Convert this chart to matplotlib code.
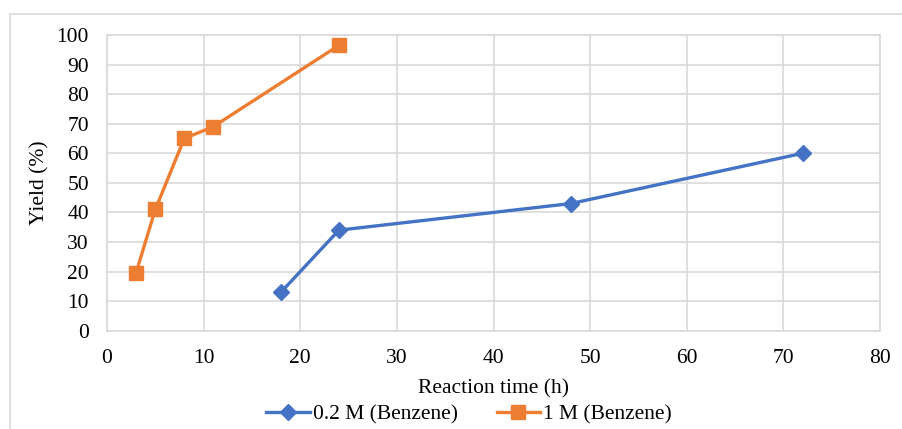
import matplotlib
matplotlib.use("Agg")
import matplotlib.pyplot as plt
from matplotlib.patches import Rectangle

x_02 = [18, 24, 48, 72]
y_02 = [13, 34, 43, 60]
x_1 = [3, 5, 8, 11, 24]
y_1 = [19.5, 41, 65, 69, 96.5]
label_02 = "0.2 M (Benzene)"
label_1 = "1 M (Benzene)"
x_ticks = list(range(0, 81, 10))
y_ticks = list(range(0, 101, 10))

plt.rcParams['font.family'] = ['Liberation Serif', 'DejaVu Serif']

fig = plt.figure(figsize=(9.03, 4.29), dpi=100)
fig.patches.append(Rectangle((10/903, -0.1), 1.0, 1 - 14/429 + 0.1, transform=fig.transFigure,
                             fill=False, edgecolor='#D9D9D9', linewidth=1.2))
ax = fig.add_axes([107/903, 1 - 330.7/429, (880-107)/903, (330.7-35)/429])

ax.plot(x_02, y_02, color='#4472C4', lw=2.4, marker='D', markersize=8.5, label=label_02, zorder=3)
ax.plot(x_1, y_1, color='#ED7D31', lw=2.4, marker='s', markersize=10, label=label_1, zorder=3)

ax.set_xlim(0, 80)
ax.set_ylim(0, 100)
ax.set_xticks(x_ticks)
ax.set_yticks(y_ticks)
ax.grid(True, color='#D9D9D9', lw=1.2, zorder=0)
ax.set_axisbelow(True)
for s in ax.spines.values():
    s.set_color('#D9D9D9')
    s.set_linewidth(1.2)
ax.tick_params(length=0, labelsize=15.5, pad=13)
ax.set_xlabel("Reaction time (h)", fontsize=15.5, labelpad=8)
ax.set_ylabel("Yield (%)", fontsize=15.5, labelpad=5)

fig.legend(loc='center', bbox_to_anchor=(469/903, 1 - 414/429), ncol=2, frameon=False,
           fontsize=15.5, handlelength=2.0, columnspacing=1.8, handletextpad=0.15)

fig.savefig("out.png", dpi=100)
